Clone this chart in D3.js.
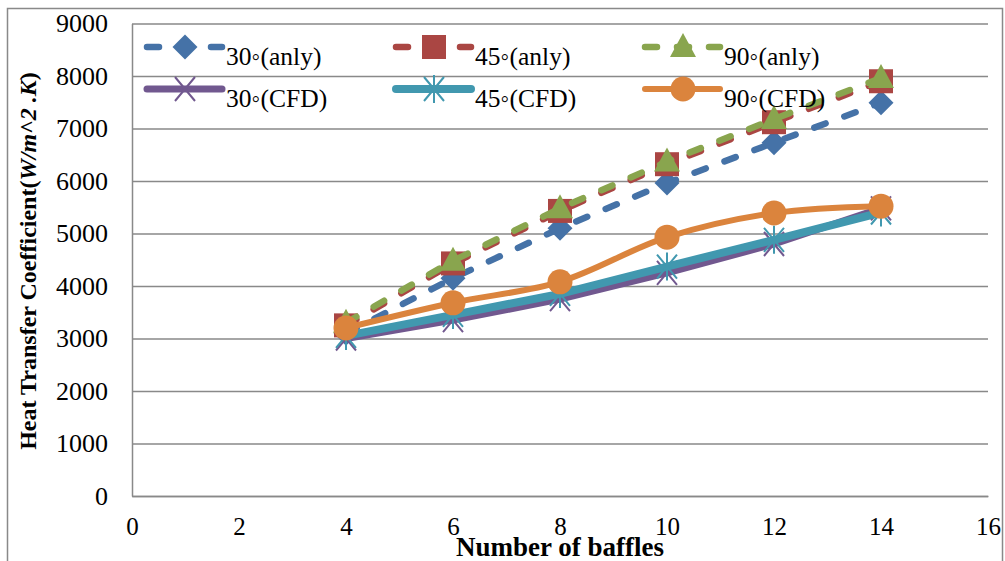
<!DOCTYPE html>
<html>
<head>
<meta charset="utf-8">
<script src="https://cdn.jsdelivr.net/npm/d3@7"></script>
<style>
  body { margin: 0; background: #fff; }
  svg text { font-family: "Liberation Serif", "Times New Roman", serif; fill: #000; }
</style>
</head>
<body>
<div id="chart"></div>
<script>
// values
const baffles = [4, 6, 8, 10, 12, 14];
const anly30 = [3100, 4150, 5100, 5960, 6730, 7490];
const anly45 = [3250, 4430, 5430, 6320, 7120, 7900];
const anly90 = [3300, 4480, 5480, 6370, 7180, 7960];
const cfd30 = [3000, 3350, 3750, 4250, 4800, 5480];
const cfd45 = [3050, 3450, 3850, 4370, 4880, 5400];
const cfd90 = [3200, 3680, 4080, 4930, 5390, 5520];

const seriesNames = ["30◦(anly)", "45◦(anly)", "90◦(anly)", "30◦(CFD)", "45◦(CFD)", "90◦(CFD)"];
const xTicks = [0, 2, 4, 6, 8, 10, 12, 14, 16];
const yTicks = [0, 1000, 2000, 3000, 4000, 5000, 6000, 7000, 8000, 9000];

const W = 1005, H = 561;
const plot = { left: 132, right: 988, top: 23.5, bottom: 496 };

const series = [
    { name: seriesNames[0], values: anly30, color: "#4572A7", width: 6.5, dash: "12,20", marker: "diamond" },
    { name: seriesNames[1], values: anly45, color: "#AA4643", width: 6.5, dash: "12,20", marker: "square" },
    { name: seriesNames[2], values: anly90, color: "#89A54E", width: 6.5, dash: "12,20", marker: "triangle" },
    { name: seriesNames[3], values: cfd30, color: "#71588F", width: 7, dash: null, marker: "x" },
    { name: seriesNames[4], values: cfd45, color: "#4198AF", width: 8, dash: null, marker: "star" },
    { name: seriesNames[5], values: cfd90, color: "#DB843D", width: 6, dash: null, marker: "circle", smooth: true }
];

const svg = d3.select("#chart").append("svg")
    .attr("width", W)
    .attr("height", H);

// outer chart border
svg.append("rect")
    .attr("x", 7.5).attr("y", 8.5)
    .attr("width", 995).attr("height", 560)
    .attr("fill", "none")
    .attr("stroke", "#898989")
    .attr("stroke-width", 1.5);

const x = d3.scaleLinear().domain([0, 16]).range([plot.left, plot.right]);
const y = d3.scaleLinear().domain([0, 9000]).range([plot.bottom, plot.top]);

// gridlines
svg.append("g")
    .attr("transform", `translate(${plot.left},0)`)
    .call(d3.axisLeft(y).tickValues(yTicks).tickSize(-(plot.right - plot.left)).tickFormat(""))
    .call(g => g.select(".domain").remove())
    .call(g => g.selectAll("line").attr("stroke", "#898989").attr("stroke-width", 1.5));

// y axis
svg.append("g")
    .attr("transform", `translate(${plot.left},0)`)
    .call(d3.axisLeft(y).tickValues(yTicks).tickSize(0).tickPadding(24).tickFormat(d3.format("d")))
    .call(g => g.select(".domain").attr("stroke", "#898989").attr("stroke-width", 1.5))
    .call(g => g.selectAll("text").attr("font-size", "26px").attr("font-family", null));

// x axis
svg.append("g")
    .attr("transform", `translate(0,${plot.bottom})`)
    .call(d3.axisBottom(x).tickValues(xTicks).tickSize(0).tickPadding(21).tickFormat(d3.format("d")))
    .call(g => g.select(".domain").attr("stroke", "#898989").attr("stroke-width", 1.5))
    .call(g => g.selectAll("text").attr("font-size", "25px").attr("font-family", null));

// axis titles
svg.append("text")
    .attr("x", (plot.left + plot.right) / 2)
    .attr("y", 556)
    .attr("text-anchor", "middle")
    .attr("font-size", "27px")
    .attr("font-weight", "bold")
    .text("Number of baffles");

const yTitle = svg.append("text")
    .attr("transform", "translate(36,261) rotate(-90)")
    .attr("text-anchor", "middle")
    .attr("font-size", "24px")
    .attr("font-weight", "bold");
yTitle.append("tspan").text("Heat Transfer Coefficient(");
yTitle.append("tspan").attr("font-style", "italic").text("W/m^2 .K");
yTitle.append("tspan").text(")");

function markerPath(type) {
    switch (type) {
        case "diamond": return "M0,-12.5L12.5,0L0,12.5L-12.5,0Z";
        case "square": return "M-12,-12h24v24h-24Z";
        case "triangle": return "M0,-14L13,10L-13,10Z";
        case "x": return "M-10,-12L10,12M-10,12L10,-12";
        case "star": return "M-10,-12L10,12M-10,12L10,-12M0,-14L0,14";
        case "circle": return d3.symbol(d3.symbolCircle, Math.PI * 12.5 * 12.5)();
    }
}

function drawMarker(sel, s) {
    const open = s.marker === "x" || s.marker === "star";
    sel.append("path")
        .attr("d", markerPath(s.marker))
        .attr("fill", open ? "none" : s.color)
        .attr("stroke", open ? s.color : "none")
        .attr("stroke-width", open ? 2 : 0);
}

const plotG = svg.append("g");

series.forEach(s => {
    const pts = baffles.map((b, i) => [b, s.values[i]]);
    const line = d3.line()
        .x(d => x(d[0]))
        .y(d => y(d[1]))
        .curve(s.smooth ? d3.curveCatmullRom : d3.curveLinear);

    const g = plotG.append("g");
    g.append("path")
        .datum(pts)
        .attr("d", line)
        .attr("fill", "none")
        .attr("stroke", s.color)
        .attr("stroke-width", s.width)
        .attr("stroke-linecap", "round")
        .attr("stroke-linejoin", "round")
        .attr("stroke-dasharray", s.dash);

    g.selectAll(".m")
        .data(pts)
        .join("g")
        .attr("class", "m")
        .attr("transform", d => `translate(${x(d[0])},${y(d[1])})`)
        .each(function () { drawMarker(d3.select(this), s); });
});

// legend: 3 columns x 2 rows
const legend = svg.append("g");
series.forEach((s, i) => {
    const col = i % 3, row = Math.floor(i / 3);
    const x0 = 147 + col * 249;
    const ly = row === 0 ? 47 : 89;
    const item = legend.append("g");
    item.append("line")
        .attr("x1", x0).attr("x2", x0 + 75)
        .attr("y1", ly).attr("y2", ly)
        .attr("stroke", s.color)
        .attr("stroke-width", s.width)
        .attr("stroke-linecap", "round")
        .attr("stroke-dasharray", s.dash);
    const mk = item.append("g").attr("transform", `translate(${x0 + 38},${ly})`);
    drawMarker(mk, s);
    item.append("text")
        .attr("x", x0 + 79)
        .attr("y", ly + 18)
        .attr("font-size", "25.5px")
        .text(s.name);
});
</script>
</body>
</html>
